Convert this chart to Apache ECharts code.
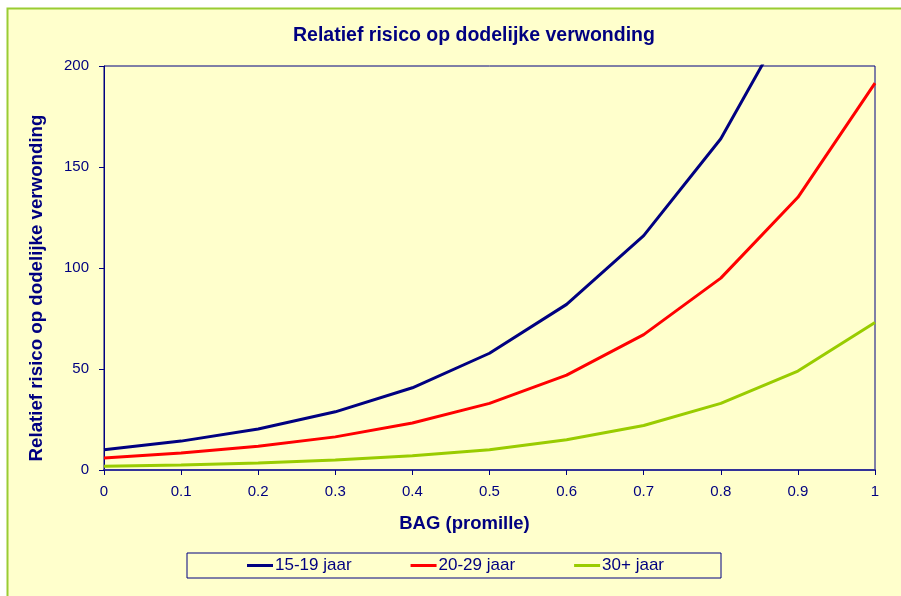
<!DOCTYPE html>
<html>
<head>
<meta charset="utf-8">
<script src="https://cdn.jsdelivr.net/npm/echarts@6/dist/echarts.min.js"></script>
<style>
html,body{margin:0;padding:0;background:#fff;}
#main{width:901px;height:596px;}
</style>
</head>
<body>
<div id="main"></div>
<script>
var bag = [0, 0.1, 0.2, 0.3, 0.4, 0.5, 0.6, 0.7, 0.8, 0.9, 1];
var jaar15_19 = [10, 14.3, 20.3, 28.8, 40.7, 57.8, 82, 116, 164, 232, 329];
var jaar20_29 = [6, 8.4, 11.8, 16.4, 23.3, 33, 47, 67, 95, 135, 191.5];
var jaar30plus = [1.8, 2.5, 3.5, 5, 7, 10, 15, 22, 33, 49, 73];
var seriesNames = ['15-19 jaar', '20-29 jaar', '30+ jaar'];
var yTicks = [0, 50, 100, 150, 200];

function pairs(ys) { return bag.map(function (x, i) { return [x, ys[i]]; }); }

var navy = '#000080';
var font = 'Liberation Sans, Arial, sans-serif';
var chart = echarts.init(document.getElementById('main'));
chart.setOption({
  backgroundColor: '#ffffff',
  animation: false,
  graphic: [{
    type: 'rect', z: -10, silent: true,
    shape: { x: 7.5, y: 8.5, width: 910, height: 610 },
    style: { fill: '#FFFFCC', stroke: '#99CC33', lineWidth: 2 }
  }],
  title: {
    text: 'Relatief risico op dodelijke verwonding',
    left: 293, top: 26,
    padding: 0,
    textStyle: { fontFamily: font, fontSize: 19.5, fontWeight: 'bold', color: navy }
  },
  grid: {
    left: 104, top: 66, right: 26, bottom: 126,
    show: true, borderColor: navy, borderWidth: 1, backgroundColor: 'transparent'
  },
  legend: {
    left: 187, top: 553,
    padding: [4, 57, 4, 60],
    itemGap: 59, itemWidth: 26, itemHeight: 3,
    icon: 'rect',
    borderColor: navy, borderWidth: 1,
    data: seriesNames,
    textStyle: { fontFamily: font, fontSize: 17, color: navy, padding: [0, 0, 0, -3] }
  },
  xAxis: {
    type: 'value', min: 0, max: 1, interval: 0.1,
    name: 'BAG (promille)', nameLocation: 'middle', nameGap: 44,
    nameTextStyle: { fontFamily: font, fontSize: 18.5, fontWeight: 'bold', color: navy,
      padding: [0, 50, 0, 0] },
    axisLine: { show: true, onZero: false, lineStyle: { color: '#333399', width: 2 } },
    axisTick: { show: true, length: 5, lineStyle: { color: navy } },
    axisLabel: { fontFamily: font, fontSize: 15, color: navy, margin: 14,
      formatter: function (v) { return String(Math.round(v * 10) / 10); } },
    splitLine: { show: false }
  },
  yAxis: {
    type: 'value', min: 0, max: 200, interval: 50,
    name: 'Relatief risico op dodelijke verwonding', nameLocation: 'middle', nameGap: 58,
    nameTextStyle: { fontFamily: font, fontSize: 18.7, fontWeight: 'bold', color: navy,
      padding: [0, 40, 0, 0] },
    axisLine: { show: true, lineStyle: { color: navy, width: 1 } },
    axisTick: { show: true, length: 5, lineStyle: { color: navy } },
    axisLabel: { fontFamily: font, fontSize: 15, color: navy, margin: 15,
      formatter: function (v) { return yTicks.indexOf(v) >= 0 ? String(v) : ''; } },
    splitLine: { show: false }
  },
  series: [
    { name: seriesNames[0], type: 'line', data: pairs(jaar15_19), symbol: 'none', clip: true,
      lineStyle: { color: '#000080', width: 3 }, itemStyle: { color: '#000080' } },
    { name: seriesNames[1], type: 'line', data: pairs(jaar20_29), symbol: 'none', clip: true,
      lineStyle: { color: '#FF0000', width: 3 }, itemStyle: { color: '#FF0000' } },
    { name: seriesNames[2], type: 'line', data: pairs(jaar30plus), symbol: 'none', clip: true,
      lineStyle: { color: '#99CC00', width: 3 }, itemStyle: { color: '#99CC00' } }
  ]
});
</script>
</body>
</html>
